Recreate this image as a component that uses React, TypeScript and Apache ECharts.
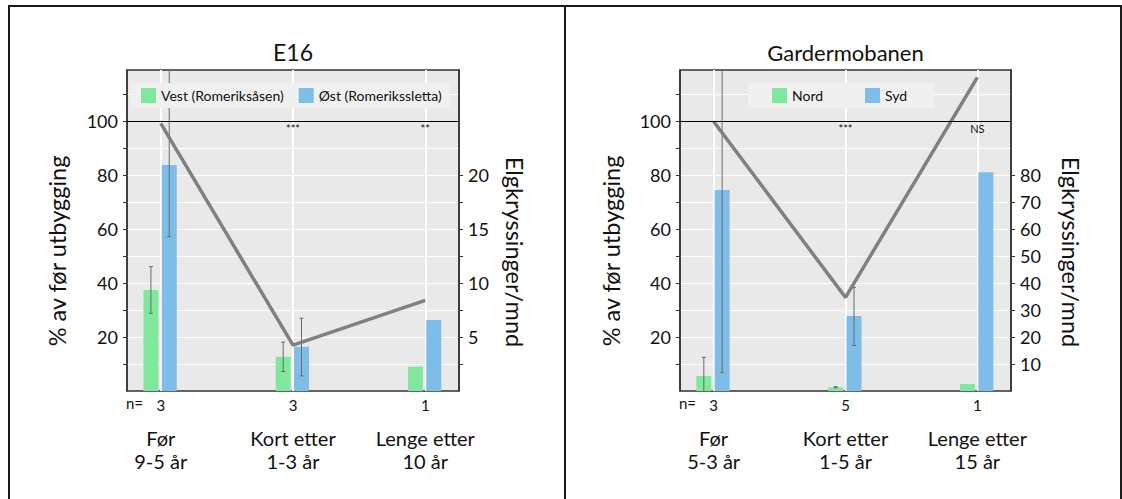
import React, { useEffect, useRef } from "react";
import * as echarts from "echarts";

// ---- E16 ----
const e16Periods = ["Før\n9-5 år", "Kort etter\n1-3 år", "Lenge etter\n10 år"];
const e16N = [3, 3, 1];
const e16Vest = [37.4, 12.7, 9.0];
const e16VestLow = [28.8, 7.2, null];
const e16VestHigh = [46.1, 18.1, null];
const e16Ost = [83.8, 16.4, 26.3];
const e16OstLow = [57.2, 5.6, null];
const e16OstHigh = [122, 27.0, null];
const e16Crossings = [24.8, 4.26, 8.4];
const e16Sig = ["", "***", "**"];

// ---- Gardermobanen ----
const gmbPeriods = ["Før\n5-3 år", "Kort etter\n1-5 år", "Lenge etter\n15 år"];
const gmbN = [3, 5, 1];
const gmbNord = [5.6, 1.4, 2.6];
const gmbNordLow = [-1.3, 1.2, null];
const gmbNordHigh = [12.5, 1.6, null];
const gmbSyd = [74.5, 27.8, 81.1];
const gmbSydLow = [6.8, 16.9, null];
const gmbSydHigh = [142.2, 38.4, null];
const gmbCrossings = [99.9, 34.7, 116.3];
const gmbSig = ["", "***", "NS"];

// ---- axis ticks / labels ----
const pctTicks = [10, 20, 30, 40, 50, 60, 70, 80, 90, 100, 110];
const pctLabels = [20, 40, 60, 80, 100];
const e16RightTicks = [2.5, 5, 7.5, 10, 12.5, 15, 17.5, 20];
const e16RightLabels = [5, 10, 15, 20];
const gmbRightTicks = [10, 20, 30, 40, 50, 60, 70, 80];
const gmbRightLabels = [10, 20, 30, 40, 50, 60, 70, 80];

const FONT = "Lato, 'Open Sans', sans-serif";
const GREEN = "#80e89c";
const BLUE = "#7dbde8";
const LINE_GRAY = "#808080";
const ERR_GRAY = "#6b6b6b";
const AXIS_DARK = "#333333";

type Panel = {
  grid: number;
  periods: string[];
  n: number[];
  nameA: string;
  nameB: string;
  a: number[];
  aLow: (number | null)[];
  aHigh: (number | null)[];
  b: number[];
  bLow: (number | null)[];
  bHigh: (number | null)[];
  crossings: number[];
  sig: string[];
  rightMax: number;
  rightTicks: number[];
  rightLabels: number[];
};

const barSeries = (p: Panel, name: string, values: number[], color: string, dx: number, withRef: boolean) => ({
  type: "custom",
  name,
  xAxisIndex: p.grid * 2,
  yAxisIndex: p.grid * 2,
  itemStyle: { color },
  encode: { x: 0, y: 1 },
  data: values.map((v, i) => [i, v]),
  z: 2,
  renderItem: (params: any, api: any) => {
    const x = api.value(0);
    const top = api.coord([x, api.value(1)]);
    const base = api.coord([x, 0]);
    return {
      type: "rect",
      shape: { x: top[0] + dx, y: top[1], width: 15, height: base[1] - top[1] },
      style: { fill: color },
    };
  },
  markLine: withRef
    ? {
        silent: true,
        symbol: "none",
        label: { show: false },
        lineStyle: { color: "#000", width: 1, type: "solid" },
        data: [{ yAxis: 100 }],
      }
    : undefined,
});

const errSeries = (p: Panel, low: (number | null)[], high: (number | null)[], dx: number) => ({
  type: "custom",
  xAxisIndex: p.grid * 2,
  yAxisIndex: p.grid * 2,
  clip: true,
  z: 3,
  encode: { x: 0, y: [1, 2] },
  data: low
    .map((l, i) => (l === null || high[i] === null ? null : [i, l, high[i]]))
    .filter((d) => d !== null),
  renderItem: (params: any, api: any) => {
    const x = api.value(0);
    const lo = api.coord([x, api.value(1)]);
    const hi = api.coord([x, api.value(2)]);
    const cx = lo[0] + dx;
    const st = { stroke: ERR_GRAY, lineWidth: 1 };
    return {
      type: "group",
      children: [
        { type: "line", shape: { x1: cx, y1: lo[1], x2: cx, y2: hi[1] }, style: st },
        { type: "line", shape: { x1: cx - 2, y1: lo[1], x2: cx + 2, y2: lo[1] }, style: st },
        { type: "line", shape: { x1: cx - 2, y1: hi[1], x2: cx + 2, y2: hi[1] }, style: st },
      ],
    };
  },
});

const panelSeries = (p: Panel) => [
  barSeries(p, p.nameA, p.a, GREEN, -17.3, true),
  barSeries(p, p.nameB, p.b, BLUE, 1, false),
  errSeries(p, p.aLow, p.aHigh, -9.8),
  errSeries(p, p.bLow, p.bHigh, 8.5),
  {
    type: "line",
    xAxisIndex: p.grid * 2,
    yAxisIndex: p.grid * 2 + 1,
    data: p.crossings.map((v, i) => [i, v]),
    symbol: "none",
    lineStyle: { color: LINE_GRAY, width: 3.5 },
    z: 4,
    silent: true,
  },
  {
    type: "custom",
    xAxisIndex: p.grid * 2,
    yAxisIndex: p.grid * 2,
    encode: { x: 0, y: 1 },
    data: p.sig.map((s, i) => [i, 100, s]),
    z: 5,
    renderItem: (params: any, api: any) => {
      const pt = api.coord([api.value(0), api.value(1)]);
      const text = p.sig[params.dataIndex];
      return {
        type: "text",
        x: pt[0],
        y: pt[1] + 7,
        style: {
          text,
          fill: "#111",
          font: `11px ${FONT}`,
          align: "center",
          verticalAlign: "middle",
          textAlign: "center",
          textVerticalAlign: "middle",
        },
      };
    },
  },
];

const panelXAxes = (p: Panel) => [
  {
    type: "value",
    gridIndex: p.grid,
    min: -0.255,
    max: 2.255,
    axisLine: { show: false, onZero: false },
    axisTick: { show: false, customValues: [0, 1, 2] },
    splitLine: { show: true, lineStyle: { color: "#ffffff", width: 2 } },
    axisLabel: {
      customValues: [0, 1, 2],
      formatter: (v: number) => String(p.n[Math.round(v)]),
      margin: 6,
      fontSize: 15,
      fontFamily: FONT,
      color: "#111",
    },
  },
  {
    type: "value",
    gridIndex: p.grid,
    position: "bottom",
    min: -0.255,
    max: 2.255,
    axisLine: { show: false, onZero: false },
    axisTick: { show: false, customValues: [0, 1, 2] },
    splitLine: { show: false },
    axisLabel: {
      customValues: [0, 1, 2],
      formatter: (v: number) => p.periods[Math.round(v)],
      margin: 35,
      fontSize: 20,
      lineHeight: 23.5,
      fontFamily: FONT,
      color: "#111",
    },
  },
];

const panelYAxes = (p: Panel) => [
  {
    type: "value",
    gridIndex: p.grid,
    position: "left",
    min: 0,
    max: 119,
    axisLine: { show: true, onZero: false, lineStyle: { color: AXIS_DARK, width: 1.5 } },
    axisTick: { show: true, inside: false, length: 4, customValues: pctTicks, lineStyle: { color: AXIS_DARK } },
    splitLine: { show: true, lineStyle: { color: "#ffffff", width: 1 } },
    axisLabel: {
      customValues: pctLabels,
      margin: 9,
      fontSize: 18,
      fontFamily: FONT,
      color: "#111",
    },
  },
  {
    type: "value",
    gridIndex: p.grid,
    position: "right",
    min: 0,
    max: p.rightMax,
    axisLine: { show: true, onZero: false, lineStyle: { color: AXIS_DARK, width: 1.5 } },
    axisTick: { show: true, inside: false, length: 4, customValues: p.rightTicks, lineStyle: { color: AXIS_DARK } },
    splitLine: { show: false },
    axisLabel: {
      customValues: p.rightLabels,
      margin: 9,
      fontSize: 18,
      fontFamily: FONT,
      color: "#111",
    },
  },
];

const e16: Panel = {
  grid: 0,
  periods: e16Periods,
  n: e16N,
  nameA: "Vest (Romeriksåsen)",
  nameB: "Øst (Romerikssletta)",
  a: e16Vest,
  aLow: e16VestLow,
  aHigh: e16VestHigh,
  b: e16Ost,
  bLow: e16OstLow,
  bHigh: e16OstHigh,
  crossings: e16Crossings,
  sig: e16Sig,
  rightMax: 29.75,
  rightTicks: e16RightTicks,
  rightLabels: e16RightLabels,
};

const gmb: Panel = {
  grid: 1,
  periods: gmbPeriods,
  n: gmbN,
  nameA: "Nord",
  nameB: "Syd",
  a: gmbNord,
  aLow: gmbNordLow,
  aHigh: gmbNordHigh,
  b: gmbSyd,
  bLow: gmbSydLow,
  bHigh: gmbSydHigh,
  crossings: gmbCrossings,
  sig: gmbSig,
  rightMax: 119,
  rightTicks: gmbRightTicks,
  rightLabels: gmbRightLabels,
};

const txt = (text: string, x: number, y: number, size: number, rotation = 0, align = "center") => ({
  type: "text",
  x,
  y,
  rotation,
  z: 10,
  style: {
    text,
    fill: "#111",
    font: `${size}px ${FONT}`,
    align,
    verticalAlign: "middle",
    textAlign: align,
    textVerticalAlign: "middle",
  },
});

const frameLine = (x1: number, y1: number, x2: number, y2: number) => ({
  type: "line",
  z: 10,
  shape: { x1, y1, x2, y2 },
  style: { stroke: "#1a1a1a", lineWidth: 2 },
});

export default function App() {
  const ref = useRef<HTMLDivElement>(null);

  useEffect(() => {
    if (!ref.current) return;
    const chart = echarts.init(ref.current, undefined, { renderer: "svg" });
    const gridBase = {
      top: 70,
      height: 321,
      show: true,
      backgroundColor: "#e9e9e9",
      borderColor: AXIS_DARK,
      borderWidth: 1.5,
    };
    const legendBase = {
      top: 83,
      orient: "horizontal",
      icon: "rect",
      itemWidth: 15,
      itemHeight: 15,
      backgroundColor: "#f0f0f0",
      selectedMode: false,
      textStyle: { fontSize: 14, fontFamily: FONT, color: "#111" },
    };
    chart.setOption({
      animation: false,
      grid: [
        { ...gridBase, left: 127, width: 332 },
        { ...gridBase, left: 680, width: 331 },
      ],
      legend: [
        { ...legendBase, left: 131, padding: [5, 8, 5, 10], itemGap: 15, data: [e16.nameA, e16.nameB] },
        { ...legendBase, left: 748, padding: [5, 27, 5, 24], itemGap: 42, data: [gmb.nameA, gmb.nameB] },
      ],
      xAxis: [...panelXAxes(e16), ...panelXAxes(gmb)],
      yAxis: [...panelYAxes(e16), ...panelYAxes(gmb)],
      series: [...panelSeries(e16), ...panelSeries(gmb)],
      graphic: [
        frameLine(8, 6, 1122, 6),
        frameLine(9, 6, 9, 499),
        frameLine(565, 6, 565, 499),
        frameLine(1121, 6, 1121, 499),
        txt("E16", 293, 52, 23),
        txt("Gardermobanen", 845.5, 52, 22),
        txt("% av før utbygging", 57, 251, 23.5, Math.PI / 2),
        txt("Elgkryssinger/mnd", 515, 252, 23.5, -Math.PI / 2),
        txt("% av før utbygging", 611, 251, 23.5, Math.PI / 2),
        txt("Elgkryssinger/mnd", 1071, 252, 23.5, -Math.PI / 2),
        txt("n=", 126, 403, 15, 0, "left"),
        txt("n=", 679, 403, 15, 0, "left"),
      ],
    });
    return () => chart.dispose();
  }, []);

  return (
    <div
      ref={ref}
      style={{ position: "fixed", left: 0, top: 0, width: 1122, height: 499, background: "#fff" }}
    />
  );
}
